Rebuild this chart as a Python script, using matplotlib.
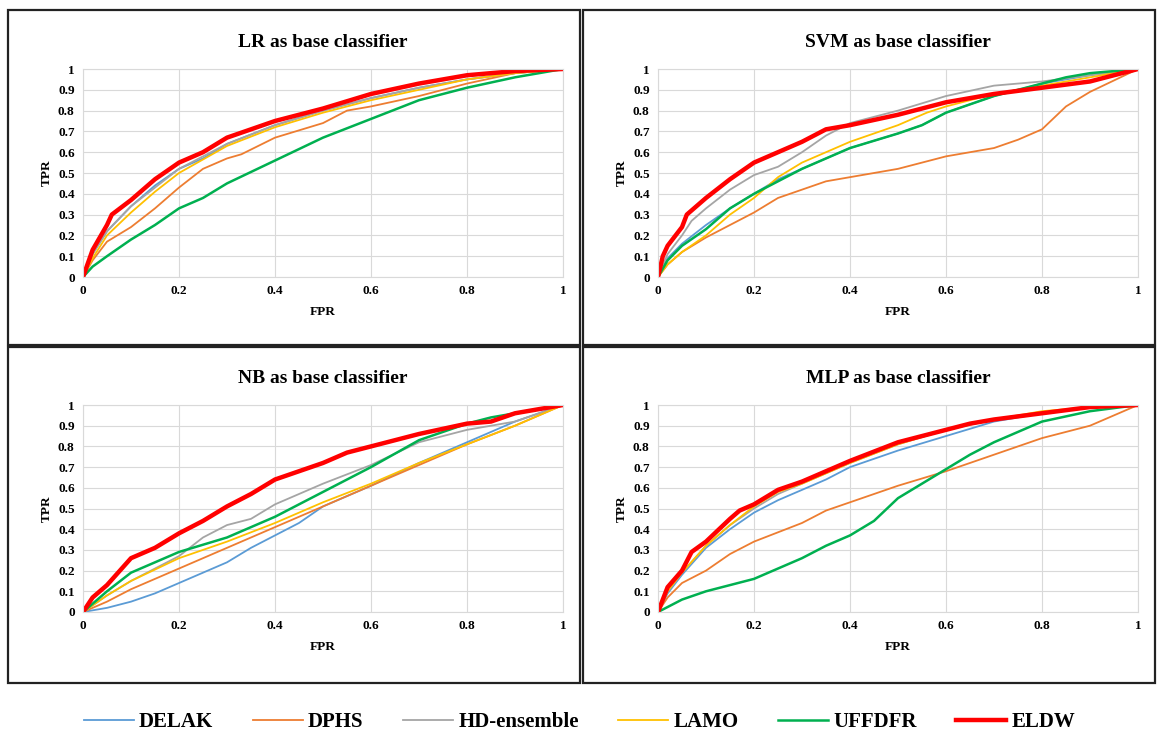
import matplotlib.pyplot as plt
from matplotlib.patches import Rectangle

plt.rcParams['font.family'] = ['Liberation Serif', 'DejaVu Serif']
plt.rcParams['font.weight'] = 'bold'

METHODS = ["DELAK", "DPHS", "HD-ensemble", "LAMO", "UFFDFR", "ELDW"]
COLORS = ["#5B9BD5", "#ED7D31", "#A5A5A5", "#FFC000", "#00B050", "#FF0000"]
WIDTHS = [1.3, 1.3, 1.3, 1.3, 1.8, 3.2]

# ---- LR ----
lr_delak_x = [0, 0.02, 0.05, 0.1, 0.15, 0.2, 0.25, 0.3, 0.4, 0.5, 0.6, 0.7, 0.8, 0.9, 1]
lr_delak_y = [0, 0.11, 0.22, 0.34, 0.44, 0.52, 0.57, 0.64, 0.73, 0.80, 0.86, 0.91, 0.95, 0.98, 1]
lr_dphs_x = [0, 0.02, 0.05, 0.1, 0.15, 0.2, 0.25, 0.3, 0.33, 0.4, 0.5, 0.55, 0.6, 0.7, 0.8, 0.9, 1]
lr_dphs_y = [0, 0.08, 0.17, 0.24, 0.33, 0.43, 0.52, 0.57, 0.59, 0.67, 0.74, 0.80, 0.82, 0.87, 0.93, 0.98, 1]
lr_hd_x = [0, 0.02, 0.05, 0.1, 0.15, 0.2, 0.3, 0.4, 0.5, 0.6, 0.7, 0.8, 0.9, 1]
lr_hd_y = [0, 0.11, 0.22, 0.34, 0.43, 0.52, 0.64, 0.73, 0.80, 0.86, 0.91, 0.95, 0.98, 1]
lr_lamo_x = [0, 0.02, 0.05, 0.1, 0.15, 0.2, 0.3, 0.4, 0.5, 0.6, 0.7, 0.8, 0.9, 1]
lr_lamo_y = [0, 0.09, 0.20, 0.31, 0.41, 0.50, 0.63, 0.72, 0.79, 0.85, 0.90, 0.95, 0.98, 1]
lr_uff_x = [0, 0.02, 0.05, 0.1, 0.15, 0.2, 0.25, 0.3, 0.4, 0.5, 0.6, 0.7, 0.8, 0.9, 1]
lr_uff_y = [0, 0.05, 0.10, 0.18, 0.25, 0.33, 0.38, 0.45, 0.56, 0.67, 0.76, 0.85, 0.91, 0.96, 1]
lr_eldw_x = [0, 0.02, 0.05, 0.06, 0.1, 0.15, 0.2, 0.25, 0.3, 0.35, 0.4, 0.5, 0.6, 0.7, 0.8, 0.9, 1]
lr_eldw_y = [0, 0.13, 0.25, 0.30, 0.37, 0.47, 0.55, 0.60, 0.67, 0.71, 0.75, 0.81, 0.88, 0.93, 0.97, 0.99, 1]

# ---- SVM ----
svm_delak_x = [0, 0.02, 0.05, 0.1, 0.15, 0.2, 0.25, 0.3, 0.4, 0.5, 0.55, 0.6, 0.7, 0.8, 0.9, 1]
svm_delak_y = [0, 0.09, 0.16, 0.25, 0.33, 0.40, 0.47, 0.52, 0.62, 0.69, 0.73, 0.79, 0.87, 0.93, 0.97, 1]
svm_dphs_x = [0, 0.02, 0.05, 0.1, 0.15, 0.2, 0.25, 0.3, 0.35, 0.4, 0.5, 0.55, 0.6, 0.7, 0.75, 0.8, 0.85, 0.9, 1]
svm_dphs_y = [0, 0.06, 0.12, 0.19, 0.25, 0.31, 0.38, 0.42, 0.46, 0.48, 0.52, 0.55, 0.58, 0.62, 0.66, 0.71, 0.82, 0.89, 1]
svm_hd_x = [0, 0.02, 0.05, 0.07, 0.1, 0.15, 0.2, 0.25, 0.3, 0.35, 0.4, 0.5, 0.6, 0.7, 0.8, 0.9, 1]
svm_hd_y = [0, 0.11, 0.20, 0.27, 0.33, 0.42, 0.49, 0.53, 0.60, 0.68, 0.74, 0.80, 0.87, 0.92, 0.94, 0.97, 1]
svm_lamo_x = [0, 0.02, 0.05, 0.1, 0.15, 0.2, 0.25, 0.3, 0.4, 0.5, 0.56, 0.6, 0.7, 0.8, 0.9, 1]
svm_lamo_y = [0, 0.06, 0.12, 0.20, 0.30, 0.38, 0.48, 0.55, 0.65, 0.73, 0.79, 0.82, 0.88, 0.92, 0.96, 1]
svm_uff_x = [0, 0.02, 0.05, 0.1, 0.15, 0.2, 0.25, 0.3, 0.4, 0.5, 0.55, 0.6, 0.7, 0.8, 0.85, 0.9, 1]
svm_uff_y = [0, 0.08, 0.15, 0.23, 0.33, 0.40, 0.46, 0.52, 0.62, 0.69, 0.73, 0.79, 0.87, 0.93, 0.96, 0.98, 1]
svm_eldw_x = [0, 0.01, 0.02, 0.05, 0.06, 0.1, 0.15, 0.2, 0.25, 0.3, 0.35, 0.4, 0.5, 0.6, 0.7, 0.8, 0.9, 1]
svm_eldw_y = [0, 0.10, 0.15, 0.24, 0.30, 0.38, 0.47, 0.55, 0.60, 0.65, 0.71, 0.73, 0.78, 0.84, 0.88, 0.91, 0.94, 1]

# ---- NB ----
nb_delak_x = [0, 0.05, 0.1, 0.15, 0.2, 0.25, 0.3, 0.35, 0.4, 0.45, 0.5, 0.6, 0.7, 0.8, 0.9, 1]
nb_delak_y = [0, 0.02, 0.05, 0.09, 0.14, 0.19, 0.24, 0.31, 0.37, 0.43, 0.51, 0.61, 0.72, 0.82, 0.92, 1]
nb_dphs_x = [0, 0.05, 0.1, 0.2, 0.3, 0.4, 0.5, 0.6, 0.7, 0.8, 0.9, 1]
nb_dphs_y = [0, 0.05, 0.11, 0.21, 0.31, 0.41, 0.51, 0.61, 0.71, 0.81, 0.90, 1]
nb_hd_x = [0, 0.05, 0.1, 0.2, 0.25, 0.3, 0.35, 0.4, 0.5, 0.6, 0.7, 0.8, 0.9, 1]
nb_hd_y = [0, 0.08, 0.15, 0.27, 0.36, 0.42, 0.45, 0.52, 0.62, 0.71, 0.82, 0.88, 0.92, 1]
nb_lamo_x = [0, 0.05, 0.1, 0.2, 0.3, 0.4, 0.5, 0.6, 0.7, 0.8, 0.9, 1]
nb_lamo_y = [0, 0.08, 0.15, 0.26, 0.34, 0.43, 0.53, 0.62, 0.72, 0.81, 0.90, 1]
nb_uff_x = [0, 0.05, 0.1, 0.15, 0.2, 0.3, 0.4, 0.5, 0.6, 0.7, 0.8, 0.85, 0.9, 1]
nb_uff_y = [0, 0.10, 0.19, 0.24, 0.29, 0.36, 0.46, 0.58, 0.70, 0.83, 0.91, 0.94, 0.96, 1]
nb_eldw_x = [0, 0.02, 0.05, 0.1, 0.15, 0.2, 0.25, 0.3, 0.35, 0.4, 0.45, 0.5, 0.55, 0.6, 0.7, 0.8, 0.85, 0.9, 1]
nb_eldw_y = [0, 0.07, 0.13, 0.26, 0.31, 0.38, 0.44, 0.51, 0.57, 0.64, 0.68, 0.72, 0.77, 0.80, 0.86, 0.91, 0.92, 0.96, 1]

# ---- MLP ----
mlp_delak_x = [0, 0.02, 0.05, 0.1, 0.15, 0.2, 0.25, 0.3, 0.35, 0.4, 0.5, 0.6, 0.7, 0.8, 0.9, 1]
mlp_delak_y = [0, 0.09, 0.18, 0.31, 0.40, 0.48, 0.54, 0.59, 0.64, 0.70, 0.78, 0.85, 0.92, 0.96, 0.99, 1]
mlp_dphs_x = [0, 0.02, 0.05, 0.1, 0.15, 0.2, 0.3, 0.35, 0.4, 0.5, 0.6, 0.7, 0.8, 0.9, 1]
mlp_dphs_y = [0, 0.07, 0.14, 0.20, 0.28, 0.34, 0.43, 0.49, 0.53, 0.61, 0.68, 0.76, 0.84, 0.90, 1]
mlp_hd_x = [0, 0.02, 0.05, 0.1, 0.15, 0.2, 0.25, 0.3, 0.4, 0.5, 0.6, 0.7, 0.8, 0.9, 1]
mlp_hd_y = [0, 0.10, 0.19, 0.32, 0.42, 0.50, 0.57, 0.62, 0.72, 0.81, 0.88, 0.93, 0.96, 0.99, 1]
mlp_lamo_x = [0, 0.02, 0.05, 0.1, 0.15, 0.2, 0.25, 0.3, 0.4, 0.5, 0.6, 0.7, 0.8, 0.9, 1]
mlp_lamo_y = [0, 0.10, 0.19, 0.32, 0.42, 0.51, 0.58, 0.62, 0.72, 0.81, 0.88, 0.93, 0.97, 0.99, 1]
mlp_uff_x = [0, 0.05, 0.1, 0.15, 0.2, 0.25, 0.3, 0.35, 0.4, 0.45, 0.5, 0.55, 0.6, 0.65, 0.7, 0.75, 0.8, 0.9, 1]
mlp_uff_y = [0, 0.06, 0.10, 0.13, 0.16, 0.21, 0.26, 0.32, 0.37, 0.44, 0.55, 0.62, 0.69, 0.76, 0.82, 0.87, 0.92, 0.97, 1]
mlp_eldw_x = [0, 0.02, 0.05, 0.07, 0.1, 0.15, 0.17, 0.2, 0.25, 0.3, 0.35, 0.4, 0.5, 0.6, 0.65, 0.7, 0.8, 0.9, 1]
mlp_eldw_y = [0, 0.12, 0.20, 0.29, 0.34, 0.45, 0.49, 0.52, 0.59, 0.63, 0.68, 0.73, 0.82, 0.88, 0.91, 0.93, 0.96, 0.99, 1]

PANELS = [
    ("LR as base classifier", [(lr_delak_x, lr_delak_y), (lr_dphs_x, lr_dphs_y), (lr_hd_x, lr_hd_y),
                               (lr_lamo_x, lr_lamo_y), (lr_uff_x, lr_uff_y), (lr_eldw_x, lr_eldw_y)]),
    ("SVM as base classifier", [(svm_delak_x, svm_delak_y), (svm_dphs_x, svm_dphs_y), (svm_hd_x, svm_hd_y),
                                (svm_lamo_x, svm_lamo_y), (svm_uff_x, svm_uff_y), (svm_eldw_x, svm_eldw_y)]),
    ("NB as base classifier", [(nb_delak_x, nb_delak_y), (nb_dphs_x, nb_dphs_y), (nb_hd_x, nb_hd_y),
                               (nb_lamo_x, nb_lamo_y), (nb_uff_x, nb_uff_y), (nb_eldw_x, nb_eldw_y)]),
    ("MLP as base classifier", [(mlp_delak_x, mlp_delak_y), (mlp_dphs_x, mlp_dphs_y), (mlp_hd_x, mlp_hd_y),
                                (mlp_lamo_x, mlp_lamo_y), (mlp_uff_x, mlp_uff_y), (mlp_eldw_x, mlp_eldw_y)]),
]

W, H = 1159, 742
fig = plt.figure(figsize=(W / 100, H / 100), dpi=100)

# panel frames (pixels: left, top, right, bottom)
frames = [(8, 10, 580, 345), (583, 10, 1155, 345), (8, 347, 580, 683), (583, 347, 1155, 683)]
plots = [(83, 69, 563, 277), (658, 69, 1138, 277), (83, 405, 563, 612), (658, 405, 1138, 612)]

handles = []
for (title, curves), fr, pl in zip(PANELS, frames, plots):
    l, t, r, b = fr
    fig.patches.append(Rectangle((l / W, 1 - b / H), (r - l) / W, (b - t) / H,
                                 transform=fig.transFigure, fill=False,
                                 edgecolor="#222222", linewidth=1.6))
    l, t, r, b = pl
    ax = fig.add_axes([l / W, 1 - b / H, (r - l) / W, (b - t) / H])
    handles = []
    for (x, y), name, c, lw in zip(curves, METHODS, COLORS, WIDTHS):
        h, = ax.plot(x, y, color=c, linewidth=lw, label=name)
        handles.append(h)
    ax.set_xlim(0, 1)
    ax.set_ylim(0, 1)
    ax.set_xticks([0, 0.2, 0.4, 0.6, 0.8, 1])
    ax.set_xticklabels(["0", "0.2", "0.4", "0.6", "0.8", "1"])
    ax.set_yticks([i / 10 for i in range(11)])
    ax.set_yticklabels(["0"] + [f"0.{i}" for i in range(1, 10)] + ["1"])
    ax.tick_params(length=0, labelsize=9.5, pad=6)
    ax.grid(True, color="#D9D9D9", linewidth=0.8)
    ax.set_axisbelow(True)
    for s in ax.spines.values():
        s.set_color("#D9D9D9")
    ax.set_xlabel("FPR", fontsize=9.5, fontweight="bold", labelpad=6)
    ax.set_ylabel("TPR", fontsize=9.5, fontweight="bold", labelpad=4)
    ax.set_title(title, fontsize=14, fontweight="bold", pad=16)

fig.legend(handles=handles, labels=METHODS, loc="center", bbox_to_anchor=(0.5, 0.027),
           ncol=6, frameon=False, fontsize=15, handlelength=2.4, columnspacing=1.9,
           handletextpad=0.25)

fig.savefig("out.png", dpi=100)
